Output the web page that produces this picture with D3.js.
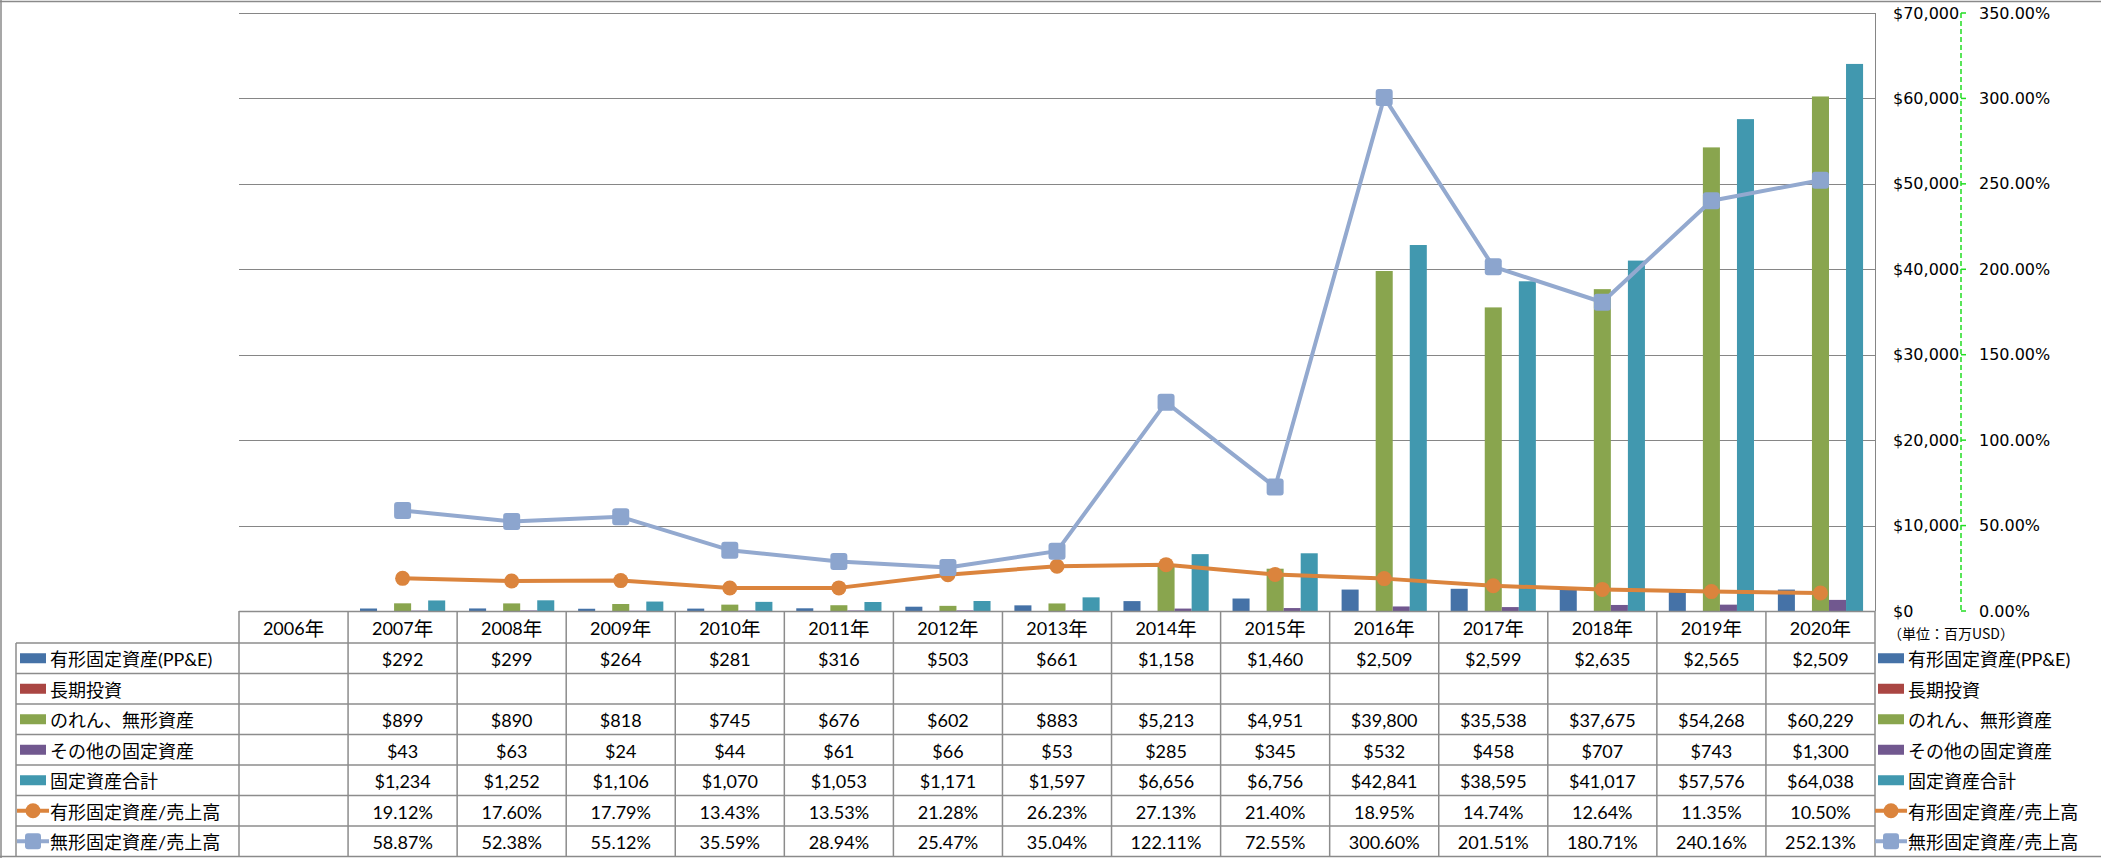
<!DOCTYPE html>
<html><head><meta charset="utf-8">
<script src="https://cdn.jsdelivr.net/npm/d3@7"></script>
<style>
html,body{margin:0;padding:0;background:#fff;}
svg{display:block;}
</style></head>
<body>
<svg id="c" width="2101" height="858"></svg>
<script>
const years = ["2006年","2007年","2008年","2009年","2010年","2011年","2012年","2013年","2014年","2015年","2016年","2017年","2018年","2019年","2020年"];
const ppe      = [null,292,299,264,281,316,503,661,1158,1460,2509,2599,2635,2565,2509];
const ltInv    = [null,null,null,null,null,null,null,null,null,null,null,null,null,null,null];
const goodwill = [null,899,890,818,745,676,602,883,5213,4951,39800,35538,37675,54268,60229];
const otherFA  = [null,43,63,24,44,61,66,53,285,345,532,458,707,743,1300];
const totalFA  = [null,1234,1252,1106,1070,1053,1171,1597,6656,6756,42841,38595,41017,57576,64038];
const ppeRatio = [null,19.12,17.60,17.79,13.43,13.53,21.28,26.23,27.13,21.40,18.95,14.74,12.64,11.35,10.50];
const intRatio = [null,58.87,52.38,55.12,35.59,28.94,25.47,35.04,122.11,72.55,300.60,201.51,180.71,240.16,252.13];
const leftTicks = [0,10000,20000,30000,40000,50000,60000,70000];
const rightTicks = [0,50,100,150,200,250,300,350];
const unitLabel = "（単位：百万USD）";

const barSeries = [
  {name:"有形固定資産(PP&E)", values:ppe, color:"#4572A7"},
  {name:"長期投資", values:ltInv, color:"#AA4643"},
  {name:"のれん、無形資産", values:goodwill, color:"#89A54E"},
  {name:"その他の固定資産", values:otherFA, color:"#71588F"},
  {name:"固定資産合計", values:totalFA, color:"#4198AF"}
];
const lineSeries = [
  {name:"有形固定資産/売上高", values:ppeRatio, color:"#DB843D", marker:"circle"},
  {name:"無形固定資産/売上高", values:intRatio, color:"#93A9CF", marker:"square"}
];
const allRows = [...barSeries.map(s=>({...s,type:"bar"})), ...lineSeries.map(s=>({...s,type:"line"}))];

const svg = d3.select("#c");
const L = 239, R = 1875, T = 13, B = 611;
const x = d3.scaleBand().domain(years).range([L,R]).paddingInner(0).paddingOuter(0);
const xs = d3.scaleBand().domain(barSeries.map(s=>s.name)).range([0,x.bandwidth()]).paddingInner(0).paddingOuter(0.7);
const y = d3.scaleLinear().domain([0,70000]).range([B,T]);
const y2 = d3.scaleLinear().domain([0,350]).range([B,T]);

const grid = "#868686";
const tFont = "Lato, 'Noto Sans CJK JP', sans-serif";
const jFont = "'Noto Sans CJK JP', sans-serif";
const aFont = "'DejaVu Sans', sans-serif";
const tSize = 18;

// outer border
svg.append("path").attr("d","M0,1.5H2101M1,0V858M0,856.5H2101").attr("stroke","#8a8a8a").attr("fill","none").attr("stroke-width",1.5);

// gridlines
svg.append("g").selectAll("line").data(leftTicks.filter(d=>d>0)).join("line")
  .attr("x1",L).attr("x2",R).attr("y1",d=>Math.round(y(d))+0.5).attr("y2",d=>Math.round(y(d))+0.5)
  .attr("stroke",grid).attr("stroke-width",1);
svg.append("line").attr("x1",R+0.5).attr("x2",R+0.5).attr("y1",Math.round(T)).attr("y2",B).attr("stroke",grid);

// bars
const gb = svg.append("g");
barSeries.forEach(s=>{
  gb.append("g").selectAll("rect").data(years.map((yr,i)=>({yr,v:s.values[i]})).filter(d=>d.v!=null)).join("rect")
    .attr("x",d=>x(d.yr)+xs(s.name)).attr("width",xs.bandwidth())
    .attr("y",d=>y(d.v)).attr("height",d=>B-y(d.v)).attr("fill",s.color);
});

// lines
lineSeries.forEach(s=>{
  const pts = years.map((yr,i)=>({yr,v:s.values[i]})).filter(d=>d.v!=null);
  const line = d3.line().x(d=>x(d.yr)+x.bandwidth()/2).y(d=>y2(d.v));
  svg.append("path").datum(pts).attr("d",line).attr("fill","none").attr("stroke",s.color).attr("stroke-width",4).attr("stroke-linejoin","round");
  const g = svg.append("g");
  if(s.marker==="circle"){
    g.selectAll("circle").data(pts).join("circle").attr("cx",d=>x(d.yr)+x.bandwidth()/2).attr("cy",d=>y2(d.v)).attr("r",7.5).attr("fill",s.color);
  } else {
    g.selectAll("rect").data(pts).join("rect").attr("x",d=>x(d.yr)+x.bandwidth()/2-8.5).attr("y",d=>y2(d.v)-8.5).attr("width",17).attr("height",17).attr("rx",3).attr("fill","#8CA5CE");
  }
});

// axes on right
const axX = 1961;
svg.append("line").attr("x1",axX).attr("x2",axX).attr("y1",T).attr("y2",B).attr("stroke","#22dd22").attr("stroke-width",1.5).attr("stroke-dasharray","5,3");
svg.append("g").selectAll("line").data(rightTicks).join("line").attr("x1",axX).attr("x2",axX+5).attr("y1",d=>y2(d)).attr("y2",d=>y2(d)).attr("stroke","#22dd22").attr("stroke-width",1.5);
svg.append("g").selectAll("text").data(leftTicks).join("text")
  .attr("x",1893).attr("y",d=>y(d)).attr("dominant-baseline","central").attr("font-family",aFont).attr("font-size",16).attr("fill","#000")
  .text(d=>d3.format("$,")(d));
svg.append("g").selectAll("text").data(rightTicks).join("text")
  .attr("x",1979).attr("y",d=>y2(d)).attr("dominant-baseline","central").attr("font-family",aFont).attr("font-size",16).attr("fill","#000")
  .text(d=>d.toFixed(2)+"%");
svg.append("text").attr("x",1888).attr("y",633).attr("dominant-baseline","central").attr("font-family",jFont).attr("font-size",14).text(unitLabel);

// data table
const TL = 16, hdrB = 643, rowH = 30.5;
const rowTop = i => hdrB + i*rowH;
const tb = svg.append("g");
const tcol = "#8c8c8c";
tb.append("line").attr("x1",L).attr("x2",R).attr("y1",B+0.5).attr("y2",B+0.5).attr("stroke",tcol).attr("stroke-width",1.5);
allRows.forEach((r,i)=>{
  tb.append("line").attr("x1",TL).attr("x2",R).attr("y1",rowTop(i)).attr("y2",rowTop(i)).attr("stroke",tcol).attr("stroke-width",1.5);
});
tb.append("line").attr("x1",TL).attr("x2",TL).attr("y1",hdrB).attr("y2",rowTop(allRows.length)).attr("stroke",tcol).attr("stroke-width",1.5);
years.forEach(yr=>{
  tb.append("line").attr("x1",x(yr)).attr("x2",x(yr)).attr("y1",B).attr("y2",rowTop(allRows.length)).attr("stroke",tcol).attr("stroke-width",1.5);
});
tb.append("line").attr("x1",R).attr("x2",R).attr("y1",B).attr("y2",rowTop(allRows.length)).attr("stroke",tcol).attr("stroke-width",1.5);
// header
const ht = tb.selectAll("text.h").data(years).join("text").attr("class","h")
  .attr("x",d=>x(d)+x.bandwidth()/2).attr("y",(B+hdrB)/2+1).attr("text-anchor","middle").attr("dominant-baseline","central")
  .attr("font-family",tFont).attr("font-size",tSize);
ht.append("tspan").text(d=>d.replace("年",""));
ht.append("tspan").attr("font-size",19.5).text("年");

function drawKey(g, r, x0, cy){
  if(r.type==="bar"){
    g.append("rect").attr("x",x0+3).attr("y",cy-5).attr("width",26).attr("height",10).attr("fill",r.color);
  } else {
    g.append("line").attr("x1",x0).attr("x2",x0+32).attr("y1",cy).attr("y2",cy).attr("stroke",r.color).attr("stroke-width",4);
    if(r.marker==="circle") g.append("circle").attr("cx",x0+16).attr("cy",cy).attr("r",7.5).attr("fill",r.color);
    else g.append("rect").attr("x",x0+16-8).attr("y",cy-8).attr("width",16).attr("height",16).attr("rx",3).attr("fill","#8CA5CE");
  }
}
allRows.forEach((r,i)=>{
  const cy = rowTop(i)+rowH/2;
  drawKey(tb, r, 17, cy);
  tb.append("text").attr("x",50).attr("y",cy+1).attr("dominant-baseline","central").attr("font-family",tFont).attr("font-size",tSize).text(r.name);
  drawKey(tb, r, 1875, cy);
  tb.append("text").attr("x",1908).attr("y",cy+1).attr("dominant-baseline","central").attr("font-family",tFont).attr("font-size",tSize).text(r.name);
  const fmt = r.type==="bar" ? (v=>"$"+d3.format(",")(v)) : (v=>v.toFixed(2)+"%");
  tb.append("g").selectAll("text").data(years.map((yr,j)=>({yr,v:r.values[j]})).filter(d=>d.v!=null)).join("text")
    .attr("x",d=>x(d.yr)+x.bandwidth()/2).attr("y",cy+1).attr("text-anchor","middle").attr("dominant-baseline","central")
    .attr("font-family",tFont).attr("font-size",tSize).text(d=>fmt(d.v));
});
</script>
</body></html>
